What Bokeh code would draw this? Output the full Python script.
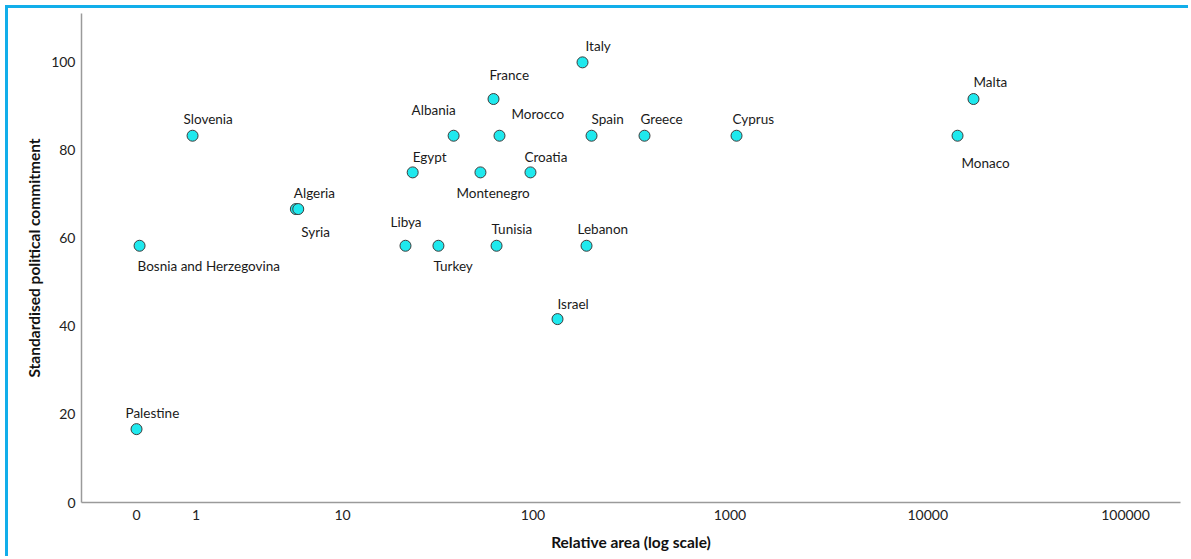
from bokeh.plotting import figure
from bokeh.models import ColumnDataSource, FixedTicker, CustomJSTickFormatter, Range1d
from bokeh.core.properties import value
from bokeh.embed import file_html
from bokeh.resources import INLINE

# ---- data ----
countries = ["Palestine", "Bosnia and Herzegovina", "Slovenia", "Algeria", "Syria",
             "Libya", "Egypt", "Turkey", "Albania", "Montenegro", "France", "Tunisia",
             "Morocco", "Croatia", "Israel", "Italy", "Lebanon", "Spain", "Greece",
             "Cyprus", "Monaco", "Malta"]
relative_area = [0.0, 0.036, 0.92, 5.39, 5.57,
                 21.9, 23.9, 32.6, 39.1, 53.8, 62.8, 65.1,
                 67.4, 97.1, 133.4, 178.8, 187.4, 198.7, 369.0,
                 1079.0, 14150.0, 17040.0]
commitment = [16.67, 58.33, 83.33, 66.67, 66.67,
              58.33, 75.0, 58.33, 83.33, 75.0, 91.67, 58.33,
              83.33, 75.0, 41.67, 100.0, 58.33, 83.33, 83.33,
              83.33, 83.33, 91.67]
x_tick_labels = [0, 1, 10, 100, 1000, 10000, 100000]
y_tick_labels = [0, 20, 40, 60, 80, 100]

# label placement (screen pixels, relative to each point)
label_dx = [-11, -2, -9, -2, 3,
            -15, 0, -5, -42, -24, -4, -5,
            12, -6, 0, 3, -9, 0, -4,
            -4, 4, 0]
label_dy = [-16, 20, -17, -16, 23,
            -24, -15, 20, -26, 21, -24, -17,
            -22, -15, -15, -16, -17, -17, -17,
            -17, 27, -17]

# axis is log10(area + 1)
plot_x = [a + 1 for a in relative_area]
src = ColumnDataSource(dict(x=plot_x, y=commitment, name=countries,
                            dx=label_dx, dy=label_dy))

p = figure(width=1188, height=556, x_axis_type="log",
           x_range=Range1d(0.527, 189700), y_range=Range1d(0, 111.1),
           output_backend="svg", toolbar_location=None,
           min_border_left=81, min_border_right=8, min_border_top=13, min_border_bottom=54,
           styles={"box-shadow": "inset 5px 5px 0 0 #ffffff, inset 8px 8px 0 0 #12aeea"})
p.outline_line_color = None
p.xgrid.visible = False
p.ygrid.visible = False
p.background_fill_color = "white"
p.border_fill_color = None

p.scatter(x="x", y="y", source=src, size=11, fill_color="#1fe9ee",
          line_color="#3c3c3c", line_width=1)
p.text(x="x", y="y", text="name", x_offset="dx", y_offset="dy", source=src,
       text_font=value("Lato"), text_font_size="13.5px", text_align="left",
       text_baseline="middle", text_color="#1a1a1a")

xa = p.xaxis[0]
xa.ticker = FixedTicker(ticks=[t + 1 for t in x_tick_labels], minor_ticks=[])
xa.formatter = CustomJSTickFormatter(code="return String(Math.round(tick - 1));")
ya = p.yaxis[0]
ya.ticker = FixedTicker(ticks=y_tick_labels, minor_ticks=[])

for ax in (xa, ya):
    ax.axis_line_color = "#9a9a9a"
    ax.axis_line_width = 1.5
    ax.major_tick_line_color = None
    ax.minor_tick_line_color = None
    ax.major_label_text_font = "Lato"
    ax.major_label_text_font_size = "14px"
    ax.major_label_text_color = "#222222"
    ax.axis_label_text_font = "Lato"
    ax.axis_label_text_font_style = "bold"
    ax.axis_label_text_color = "#111111"
    ax.axis_label_text_font_size = "15.5px"

xa.axis_label = "Relative area (log scale)"
xa.major_label_standoff = 1
xa.axis_label_standoff = 10
ya.axis_label = "Standardised political commitment"
ya.major_label_standoff = 0
ya.axis_label_standoff = 5

open("out.html", "w").write(file_html(p, INLINE))
